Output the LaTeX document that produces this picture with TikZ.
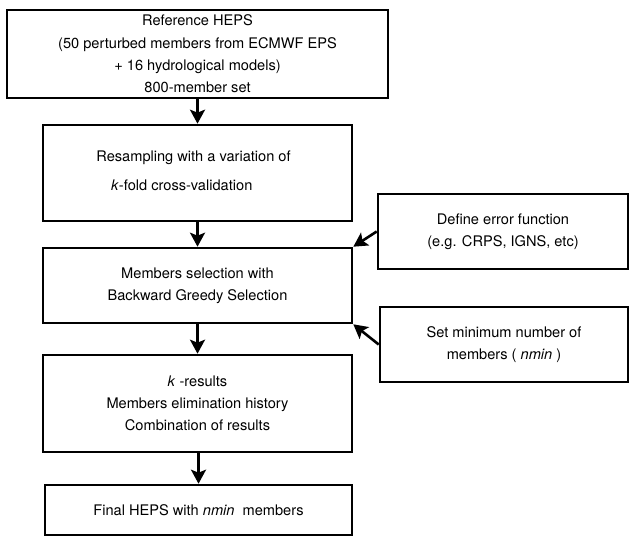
\documentclass[tikz,border=0pt]{standalone}
\usepackage{fontspec}
\setmainfont{TeX Gyre Heros}
\usetikzlibrary{arrows.meta}
\begin{document}
\begin{tikzpicture}[x=1bp,y=-1bp,
  box/.style={draw=black, line width=2.6bp, rectangle, inner sep=0pt,
    align=center, font=\fontsize{14.6bp}{22.3bp}\selectfont},
  lbl/.style={inner sep=0pt, font=\fontsize{14.6bp}{22.3bp}\selectfont},
  arr/.style={line width=2.6bp, -{Stealth[length=14bp,width=15bp,inset=3bp]}}]
\useasboundingbox (0,0) rectangle (630,537);
% main column
\node[box, minimum width=381bp, minimum height=88bp] (b1) at (197.5,54)
  {Reference HEPS\\(50 perturbed members from ECMWF EPS\\+ 16 hydrological models)\\800-member set};
\node[box, minimum width=309bp, minimum height=96bp] (b2) at (197.5,173) {};
\node[lbl] (t2a) at (193.5,158) {Resampling with a variation of};
\node[lbl, anchor=west] (t2b) at (111,185) {\textit{k}-fold cross-validation};
\node[box, minimum width=309bp, minimum height=75bp] (b3) at (197.5,285.5)
  {Members selection with\\Backward Greedy Selection};
\node[box, minimum width=309bp, minimum height=97bp] (b4) at (197.5,403.5)
  {\textit{k} -results\\Members elimination history\\Combination of results};
\node[box, minimum width=307bp, minimum height=50bp] (b5) at (198.5,510)
  {Final HEPS with \textit{nmin}\ \ members};
% side boxes
\node[box, minimum width=250bp, minimum height=75bp] (bA) at (503,231.5)
  {Define error function\\(e.g. CRPS, IGNS, etc)};
\node[box, minimum width=248bp, minimum height=75bp] (bB) at (504,344.5)
  {Set minimum number of\\members ( \textit{nmin} )};
% connectors
\draw[arr] (b1) -- (b2);
\draw[arr] (b2) -- (b3);
\draw[arr] (b3) -- (b4);
\draw[arr] (b4.south -| b5.north) -- (b5.north);
\draw[arr] (bA.west) -- (b3.north east);
\draw[arr] (bB.west) -- (b3.south east);
\end{tikzpicture}
\end{document}
